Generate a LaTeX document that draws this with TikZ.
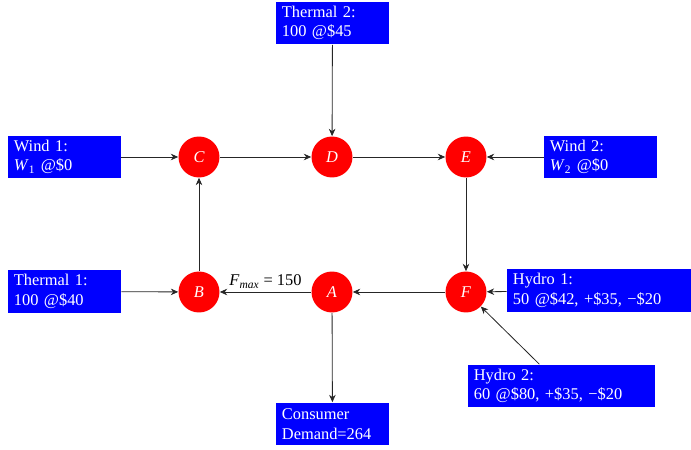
\documentclass[tikz,border=0pt]{standalone}
\usepackage{fontspec}
\setmainfont{Liberation Serif}
\usetikzlibrary{arrows.meta}
\begin{document}
\begin{tikzpicture}[x=0.61pt,y=-0.61pt,
  bus/.style={circle,fill=red,text=white,minimum size=25pt,inner sep=0pt,font=\itshape},
  src/.style={fill=blue,text=white,align=left,inner xsep=3.6pt,inner ysep=2.5pt,minimum height=26.2pt},
  flow/.style={-{Stealth[length=4.5pt,width=4pt]},line width=0.5pt,draw=black!85}]
\useasboundingbox (0,0) rectangle (691,450);
% buses
\node[bus] (C) at (199,157) {C};
\node[bus] (D) at (332,157) {D};
\node[bus] (E) at (466,157) {E};
\node[bus] (B) at (199,292) {B};
\node[bus] (A) at (332,292) {A};
\node[bus] (F) at (466,292) {F};
% sources / sinks
\node[src,text width=61.7pt] (w1) at (64.5,157) {Wind 1:\\\textit{W}\textsubscript{1} @\$0};
\node[src,text width=61.7pt] (t1) at (64.5,291.5) {Thermal 1:\\100 @\$40};
\node[src,text width=61.7pt] (t2) at (332.5,23) {Thermal 2:\\100 @\$45};
\node[src,text width=61.7pt] (w2) at (600.5,157) {Wind 2:\\\textit{W}\textsubscript{2} @\$0};
\node[src,text width=61.7pt] (cons) at (332.5,424) {Consumer\\Demand=264};
\node[src,text width=105pt] (h1) at (599,290.5) {Hydro 1:\\50 @\$42, +\$35, −\$20};
\node[src,text width=106.9pt] (h2) at (561.5,386) {Hydro 2:\\60 @\$80, +\$35, −\$20};
% flows
\draw[flow] (w1) -- (C);
\draw[flow] (C) -- (D);
\draw[flow] (D) -- (E);
\draw[flow] (w2) -- (E);
\draw[flow] (t2) -- (D);
\draw[flow] (E) -- (F);
\draw[flow] (h1) -- (F);
\draw[flow] (h2) -- (F);
\draw[flow] (F) -- (A);
\draw[flow] (A) -- node[above,inner sep=2pt] {\textit{F}\textsubscript{\textit{max}} = 150} (B);
\draw[flow] (t1) -- (B);
\draw[flow] (B) -- (C);
\draw[flow] (A) -- (cons);
\end{tikzpicture}
\end{document}
